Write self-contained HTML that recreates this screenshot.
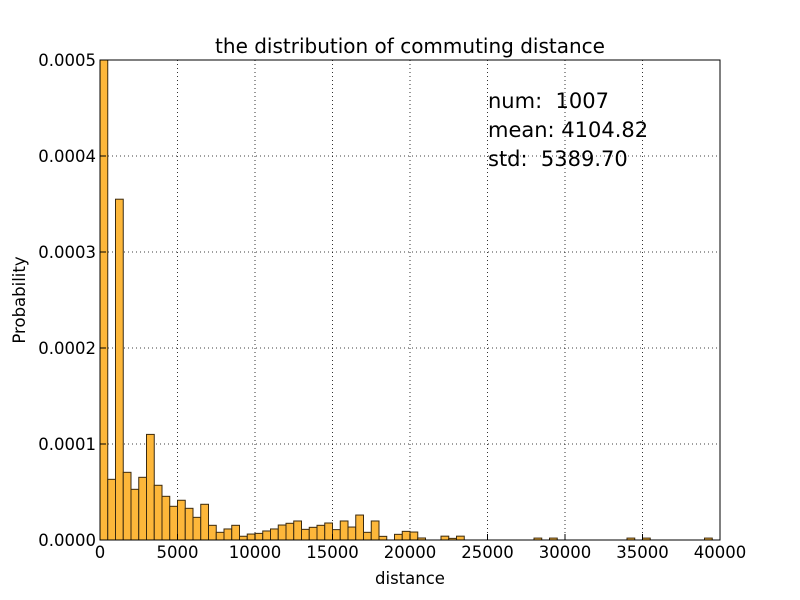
<!DOCTYPE html>
<html><head><meta charset="utf-8"><style>
body{margin:0;background:#fff;}
svg{display:block;font-family:"DejaVu Sans","Liberation Sans",sans-serif;}
text{white-space:pre;}
</style></head><body>
<svg id="chart" width="800" height="600">
<rect width="800" height="600" fill="#fff"/>
<g id="grid"></g>
<g id="bars"></g>
<rect x="100" y="60" width="620" height="480" fill="none" stroke="#000" stroke-width="1"/>
<g id="ticks"></g>
<text x="410" y="53" font-size="20" text-anchor="middle">the distribution of commuting distance</text>
<text x="410" y="584" font-size="16.5" text-anchor="middle">distance</text>
<text x="25" y="300" font-size="16.5" text-anchor="middle" transform="rotate(-90 25 300)">Probability</text>
<text x="488" y="108" font-size="21" xml:space="preserve">num:  1007</text>
<text x="488" y="137" font-size="21" xml:space="preserve">mean: 4104.82</text>
<text x="488" y="166" font-size="21" xml:space="preserve">std:  5389.70</text>
</svg>
<script>
const binWidth = 500;
const binStarts = [0,500,1000,1500,2000,2500,3000,3500,4000,4500,5000,5500,6000,6500,7000,7500,8000,8500,9000,9500,10000,10500,11000,11500,12000,12500,13000,13500,14000,14500,15000,15500,16000,16500,17000,17500,18000,18500,19000,19500,20000,20500,22000,22500,23000,28000,29000,34000,35000,39000];
const probs = [0.00055,0.0000632,0.000355,0.0000705,0.0000528,0.0000653,0.00011,0.000057,0.0000455,0.0000351,0.0000414,0.000033,0.0000236,0.0000372,0.0000153,0.000008,0.0000115,0.0000153,0.0000039,0.0000062,0.0000069,0.0000094,0.0000115,0.0000156,0.0000174,0.0000198,0.0000111,0.0000132,0.0000153,0.0000177,0.0000108,0.0000198,0.0000135,0.000026,0.000008,0.0000198,0.0000038,0,0.0000059,0.000009,0.0000083,0.0000021,0.000004,0.0000017,0.000004,0.000002,0.000002,0.000002,0.000002,0.000002];
const xTicks = [0,5000,10000,15000,20000,25000,30000,35000,40000];
const yTicks = [0,0.0001,0.0002,0.0003,0.0004,0.0005];
const yTickLabels = ["0.0000","0.0001","0.0002","0.0003","0.0004","0.0005"];
const NS="http://www.w3.org/2000/svg";
const X=v=>100+v/40000*620;
const Y=v=>540-v/0.0005*480;
function mk(tag,attrs,parent){const e=document.createElementNS(NS,tag);for(const k in attrs)e.setAttribute(k,attrs[k]);parent.appendChild(e);return e;}
const grid=document.getElementById('grid'),bars=document.getElementById('bars'),ticks=document.getElementById('ticks');
xTicks.forEach(t=>{
  const l=mk('line',{x1:X(t),x2:X(t),y1:60,y2:540,stroke:'#000','stroke-width':0.8,'stroke-dasharray':'1,3'},grid);
  
  
  const tk=mk('line',{x1:X(t),x2:X(t),y1:540,y2:534,stroke:'#000'},ticks);
  
  
  const tx=mk('text',{x:X(t),y:558,'font-size':16.5,'text-anchor':'middle'},ticks);
  tx.textContent=t;
  
  
});
yTicks.forEach((t,i)=>{
  const l=mk('line',{x1:100,x2:720,y1:Y(t),y2:Y(t),stroke:'#000','stroke-width':0.8,'stroke-dasharray':'1,3'},grid);
  
  
  const tk=mk('line',{x1:100,x2:106,y1:Y(t),y2:Y(t),stroke:'#000'},ticks);
  
  
  const tx=mk('text',{x:96,y:Y(t)+6,'font-size':16.5,'text-anchor':'end'},ticks);
  tx.textContent=yTickLabels[i];
  
  
});
binStarts.forEach((s,i)=>{
  const v=Math.min(probs[i],0.0005);
  if(v<=0)return;
  const r=mk('rect',{x:X(s),y:Y(v),width:X(s+binWidth)-X(s),height:540-Y(v),fill:'#fdb73a',stroke:'#3a2a10','stroke-width':1},bars);
  
  
});
</script>
</body></html>
